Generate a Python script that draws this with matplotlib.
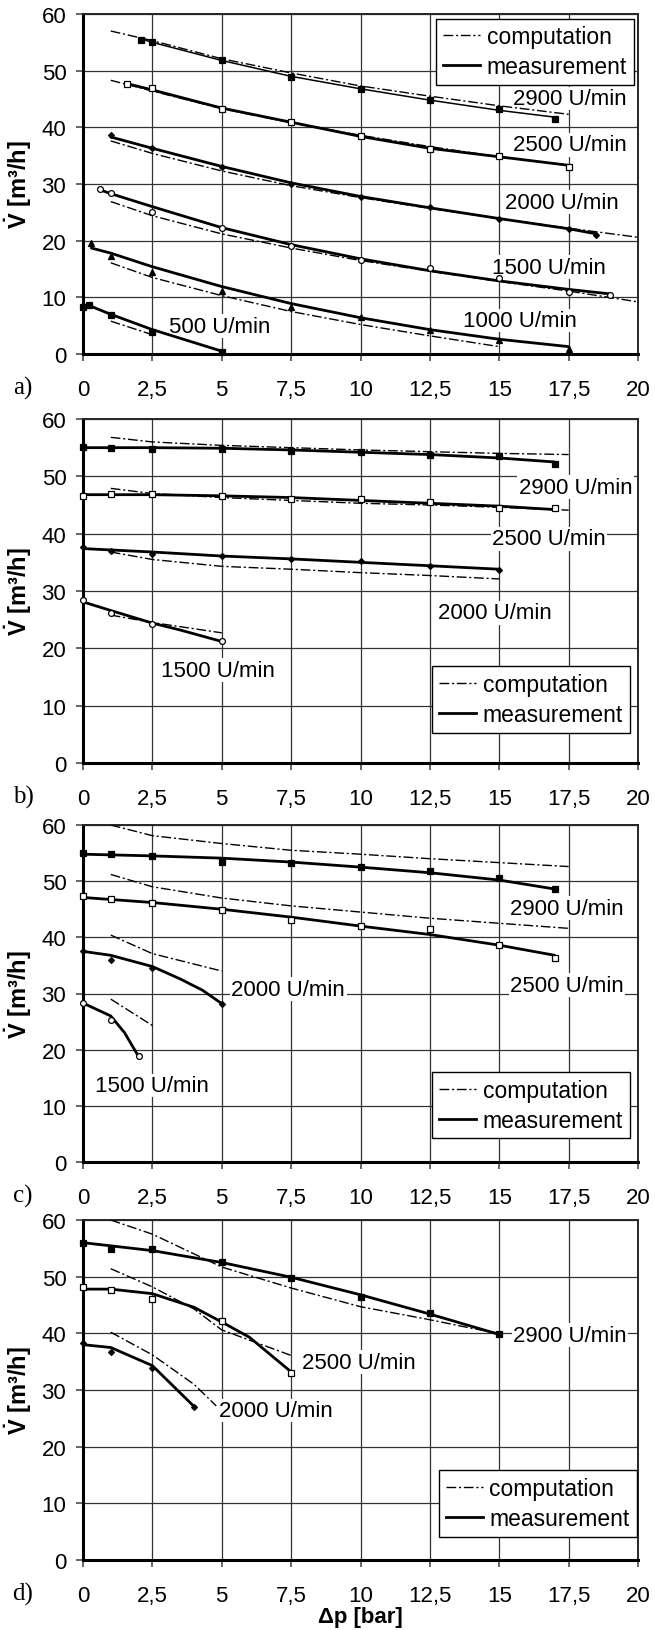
import numpy as np
import matplotlib
matplotlib.use("Agg")
import matplotlib.pyplot as plt
from matplotlib.lines import Line2D

plt.rcParams["font.family"] = ["Liberation Sans", "DejaVu Sans"]
plt.rcParams["mathtext.fontset"] = "custom"
plt.rcParams["mathtext.rm"] = "Liberation Sans"
plt.rcParams["mathtext.bf"] = "Liberation Sans:bold"

# ---- data (Δp in bar, V in m³/h); one entry per speed ----
XTICKS = [0, 2.5, 5, 7.5, 10, 12.5, 15, 17.5, 20]
YTICKS = [0, 10, 20, 30, 40, 50, 60]

# panel a)
a_speeds = [2900, 2500, 2000, 1500, 1000, 500]
a_comp_x = [[1, 2.5, 5, 7.5, 10, 12.5, 15, 17.5],
            [1, 2.5, 5, 7.5, 10, 12.5, 15, 17.5],
            [1, 2.5, 5, 7.5, 10, 12.5, 15, 17.5, 20],
            [1, 2.5, 5, 7.5, 10, 12.5, 15, 17.5, 20],
            [1, 2.5, 5, 7.5, 10, 12.5, 15],
            [1, 2.5]]
a_comp_y = [[57.0, 55.3, 52.1, 49.6, 47.3, 45.5, 43.8, 42.3],
            [48.3, 46.4, 43.3, 40.8, 38.6, 36.6, 34.8, 33.3],
            [37.6, 35.4, 32.3, 29.7, 27.6, 25.7, 23.9, 22.2, 20.6],
            [26.9, 24.4, 21.2, 18.7, 16.5, 14.6, 12.8, 11.1, 9.2],
            [16.1, 13.5, 10.3, 7.5, 5.2, 3.2, 1.3],
            [5.8, 3.4]]
a_fit_x = [[2.1, 2.5, 5, 7.5, 10, 12.5, 15, 17],
           [1.6, 2.5, 5, 7.5, 10, 12.5, 15, 17.5],
           [1, 2.5, 5, 7.5, 10, 12.5, 15, 17.5, 18.5],
           [0.6, 1, 2.5, 5, 7.5, 10, 12.5, 15, 17.5, 19],
           [0.3, 1, 2.5, 5, 7.5, 10, 12.5, 15, 17.5],
           [0.2, 1, 2.5, 5]]
a_fit_y = [[55.6, 55.0, 51.8, 49.0, 46.8, 44.8, 43.0, 41.8],
           [47.7, 46.6, 43.4, 40.9, 38.4, 36.3, 34.8, 33.3],
           [38.3, 36.3, 33.1, 30.2, 27.8, 25.8, 23.9, 22.1, 21.2],
           [29.0, 28.3, 26.0, 22.3, 19.3, 16.8, 14.7, 12.9, 11.4, 10.6],
           [18.7, 17.8, 15.4, 11.9, 8.9, 6.4, 4.3, 2.6, 1.3],
           [8.6, 7.0, 4.3, 0.5]]
a_pts_x = [[2.1, 2.5, 5, 7.5, 10, 12.5, 15, 17],
           [1.6, 2.5, 5, 7.5, 10, 12.5, 15, 17.5],
           [1, 2.5, 5, 7.5, 10, 12.5, 15, 17.5, 18.5],
           [0.6, 1, 2.5, 5, 7.5, 10, 12.5, 15, 17.5, 19],
           [0.3, 1, 2.5, 5, 7.5, 10, 12.5, 15, 17.5],
           [0, 0.2, 1, 2.5, 5]]
a_pts_y = [[55.5, 55.0, 51.8, 48.9, 46.8, 44.8, 43.2, 41.5],
           [47.6, 46.9, 43.2, 41.0, 38.4, 36.2, 35.0, 33.0],
           [38.7, 36.3, 33.0, 30.0, 27.7, 26.0, 23.8, 22.0, 21.0],
           [29.2, 28.4, 25.0, 22.3, 19.0, 16.6, 15.2, 13.4, 11.0, 10.5],
           [19.6, 17.3, 14.5, 11.2, 8.3, 6.5, 4.2, 2.4, 0.8],
           [8.3, 8.7, 6.8, 3.8, 0.4]]
a_label_xy = [(15.5, 45.1), (15.5, 36.9), (15.2, 26.8), (14.75, 15.3), (13.7, 5.9), (3.1, 4.9)]

# panel b)
b_speeds = [2900, 2500, 2000, 1500]
b_comp_x = [[1, 2.5, 5, 7.5, 10, 12.5, 15, 17.5],
            [1, 2.5, 5, 7.5, 10, 12.5, 15, 17.5],
            [1, 2.5, 5, 7.5, 10, 12.5, 15],
            [1, 2.5, 5]]
b_comp_y = [[56.8, 56.0, 55.4, 55.0, 54.6, 54.3, 54.0, 53.8],
            [47.9, 47.0, 46.3, 45.8, 45.3, 45.0, 44.6, 44.1],
            [36.8, 35.5, 34.3, 33.8, 33.2, 32.7, 32.1],
            [25.8, 24.5, 22.7]]
b_fit_x = [[0, 2.5, 5, 7.5, 10, 12.5, 15, 17],
           [0, 2.5, 5, 7.5, 10, 12.5, 15, 17],
           [0, 2.5, 5, 7.5, 10, 12.5, 15],
           [0, 1, 2.5, 3.5, 5]]
b_fit_y = [[55.0, 55.0, 54.9, 54.6, 54.2, 53.8, 53.2, 52.5],
           [46.8, 46.8, 46.6, 46.3, 45.8, 45.3, 44.8, 44.2],
           [37.4, 36.8, 36.1, 35.6, 35.0, 34.4, 33.8],
           [28.1, 26.6, 24.4, 23.2, 21.2]]
b_pts_x = [[0, 1, 2.5, 5, 7.5, 10, 12.5, 15, 17],
           [0, 1, 2.5, 5, 7.5, 10, 12.5, 15, 17],
           [0, 1, 2.5, 5, 7.5, 10, 12.5, 15],
           [0, 1, 2.5, 5]]
b_pts_y = [[55.2, 55.0, 54.8, 54.8, 54.4, 54.3, 53.8, 53.5, 52.2],
           [46.6, 46.9, 46.9, 46.5, 46.1, 46.1, 45.5, 44.5, 44.4],
           [37.6, 37.0, 36.5, 36.1, 35.6, 35.2, 34.4, 33.7],
           [28.5, 26.2, 24.2, 21.2]]
b_label_xy = [(15.7, 48.1), (14.75, 39.1), (12.8, 26.2), (2.8, 16.2)]

# panel c)
c_speeds = [2900, 2500, 2000, 1500]
c_comp_x = [[1, 2.5, 5, 7.5, 10, 12.5, 15, 17.5],
            [1, 2.5, 5, 7.5, 10, 12.5, 15, 17.5],
            [1, 2.5, 5],
            [1, 2.5]]
c_comp_y = [[60.0, 58.1, 56.7, 55.5, 54.8, 54.0, 53.3, 52.6],
            [51.2, 49.0, 47.0, 45.6, 44.5, 43.4, 42.5, 41.6],
            [40.4, 37.1, 34.0],
            [29.0, 24.3]]
c_fit_x = [[0, 2.5, 5, 7.5, 10, 12.5, 15, 17],
           [0, 2.5, 5, 7.5, 10, 12.5, 15, 17],
           [0, 1, 2.5, 3.5, 4.3, 5],
           [0, 1, 1.5, 2]]
c_fit_y = [[54.8, 54.5, 54.1, 53.4, 52.5, 51.5, 50.2, 48.6],
           [47.1, 46.2, 45.0, 43.6, 42.0, 40.5, 38.6, 36.8],
           [37.5, 36.8, 34.8, 32.6, 30.6, 28.2],
           [28.3, 26.0, 23.0, 18.8]]
c_pts_x = [[0, 1, 2.5, 5, 7.5, 10, 12.5, 15, 17],
           [0, 1, 2.5, 5, 7.5, 10, 12.5, 15, 17],
           [0, 1, 2.5, 5],
           [0, 1, 2]]
c_pts_y = [[55.1, 54.8, 54.5, 53.5, 53.3, 52.6, 51.8, 50.5, 48.6],
           [47.3, 46.8, 46.1, 44.8, 43.0, 42.1, 41.4, 38.6, 36.4],
           [37.6, 36.0, 34.6, 28.2],
           [28.3, 25.2, 18.8]]
c_label_xy = [(15.4, 45.2), (15.4, 31.5), (5.35, 30.8), (0.45, 13.6)]

# panel d)
d_speeds = [2900, 2500, 2000]
d_comp_x = [[1, 2.5, 5, 7.5, 10, 12.5, 14, 15],
            [1, 2.5, 4, 5, 7.5],
            [1, 2.5, 4, 4.8]]
d_comp_y = [[60.0, 57.5, 51.7, 48.0, 44.7, 42.4, 40.9, 40.0],
            [51.4, 48.2, 44.3, 40.6, 36.1],
            [40.2, 36.2, 31.0, 27.2]]
d_fit_x = [[0, 2.5, 5, 7.5, 10, 12.5, 15],
           [0, 1, 2.5, 4, 5, 6, 7.5],
           [0, 1, 2.5, 4]]
d_fit_y = [[56.0, 54.6, 52.5, 49.9, 46.8, 43.4, 39.8],
           [47.8, 47.8, 47.0, 44.6, 42.0, 39.3, 33.2],
           [38.0, 37.5, 34.3, 27.1]]
d_pts_x = [[0, 1, 2.5, 5, 7.5, 10, 12.5, 15],
           [0, 1, 2.5, 5, 7.5],
           [0, 1, 2.5, 4]]
d_pts_y = [[56.0, 54.9, 54.9, 52.6, 49.8, 46.4, 43.6, 39.8],
           [48.1, 47.7, 46.1, 42.2, 33.0],
           [38.3, 36.7, 33.9, 27.0]]
d_label_xy = [(15.5, 39.7), (7.9, 34.9), (4.9, 26.4)]

# marker look per speed (shape, filled)
MARKERS = {2900: ("s", True), 2500: ("s", False), 2000: ("D", True),
           1500: ("o", False), 1000: ("^", True), 500: ("s", True)}

DASHDOT = (0, (7, 2, 1.5, 2))
FS = 16


def draw_panel(ax, letter, speeds, comp_x, comp_y, fit_x, fit_y,
               pts_x, pts_y, label_xy, legend_anchor, legend_loc,
               thin_first=False):
    ax.set_xlim(0, 20)
    ax.set_ylim(0, 60)
    ax.set_xticks(XTICKS)
    ax.set_xticklabels([f"{t:g}".replace(".", ",") for t in XTICKS])
    ax.set_yticks(YTICKS)
    ax.tick_params(labelsize=FS, length=5, width=1.2, color="0.3")
    ax.tick_params(axis="x", pad=13)
    ax.tick_params(axis="y", pad=7)
    ax.grid(True, color="0.2", lw=0.9, zorder=0)
    ax.set_axisbelow(True)
    for s in ax.spines.values():
        s.set_color("0.15")
        s.set_linewidth(1.4)
    ax.spines["left"].set_linewidth(2.2)
    ax.spines["left"].set_color("black")
    ax.spines["bottom"].set_linewidth(2.2)
    ax.spines["bottom"].set_color("black")

    for i, sp in enumerate(speeds):
        ax.plot(comp_x[i], comp_y[i], color="black", lw=1.0,
                linestyle=DASHDOT, zorder=3)
        lw = 1.1 if (thin_first and i == 0) else 2.0
        ax.plot(fit_x[i], fit_y[i], color="black", lw=lw, zorder=4,
                solid_capstyle="round")
        mk, filled = MARKERS[sp]
        ms = 3.0 if mk == "D" else 4.2
        ax.plot(pts_x[i], pts_y[i], linestyle="none", marker=mk, ms=ms,
                mec="black", mew=0.9, mfc="black" if filled else "white",
                zorder=5, clip_on=False)
        tx, ty = label_xy[i]
        ax.text(tx, ty, f"{sp} U/min", fontsize=FS, ha="left", va="center",
                zorder=2.5,
                bbox=dict(facecolor="white", edgecolor="none", pad=1.0))

    handles = [Line2D([], [], color="black", lw=1.0, linestyle=DASHDOT),
               Line2D([], [], color="black", lw=2.0)]
    leg = ax.legend(handles, ["computation", "measurement"], loc=legend_loc,
                    bbox_to_anchor=legend_anchor, bbox_transform=ax.transData,
                    fontsize=16.5, frameon=True, fancybox=False,
                    edgecolor="black", framealpha=1, borderpad=0.3,
                    labelspacing=0.3, handlelength=1.6, handletextpad=0.3,
                    borderaxespad=0)
    leg.get_frame().set_linewidth(1.0)
    leg.set_zorder(10)

    ax.set_ylabel(r"$\mathbf{\dot{V}}$ [m³/h]", fontsize=17, fontweight="bold")
    ax.yaxis.set_label_coords(-0.088, 0.5)
    ax.text(-0.108, -0.098, letter, transform=ax.transAxes, fontsize=18,
            family="Liberation Serif", ha="center", va="center")


fig = plt.figure(figsize=(6.55, 16.31), dpi=100)
left, width = 83 / 655, 555 / 655
ax_a = fig.add_axes([left, 1 - 355 / 1631, width, 340 / 1631])
ax_b = fig.add_axes([left, 1 - 764 / 1631, width, 344 / 1631])
ax_c = fig.add_axes([left, 1 - 1163 / 1631, width, 337 / 1631])
ax_d = fig.add_axes([left, 1 - 1561 / 1631, width, 340 / 1631])

draw_panel(ax_a, "a)", a_speeds, a_comp_x, a_comp_y, a_fit_x, a_fit_y,
           a_pts_x, a_pts_y, a_label_xy, (19.85, 59.2), "upper right",
           thin_first=True)
draw_panel(ax_b, "b)", b_speeds, b_comp_x, b_comp_y, b_fit_x, b_fit_y,
           b_pts_x, b_pts_y, b_label_xy, (19.7, 5.3), "lower right")
draw_panel(ax_c, "c)", c_speeds, c_comp_x, c_comp_y, c_fit_x, c_fit_y,
           c_pts_x, c_pts_y, c_label_xy, (19.7, 4.2), "lower right")
draw_panel(ax_d, "d)", d_speeds, d_comp_x, d_comp_y, d_fit_x, d_fit_y,
           d_pts_x, d_pts_y, d_label_xy, (19.95, 4.1), "lower right")
ax_d.set_xlabel("Δp [bar]", fontsize=FS, fontweight="bold", labelpad=0)

fig.savefig("out.png", dpi=100)
